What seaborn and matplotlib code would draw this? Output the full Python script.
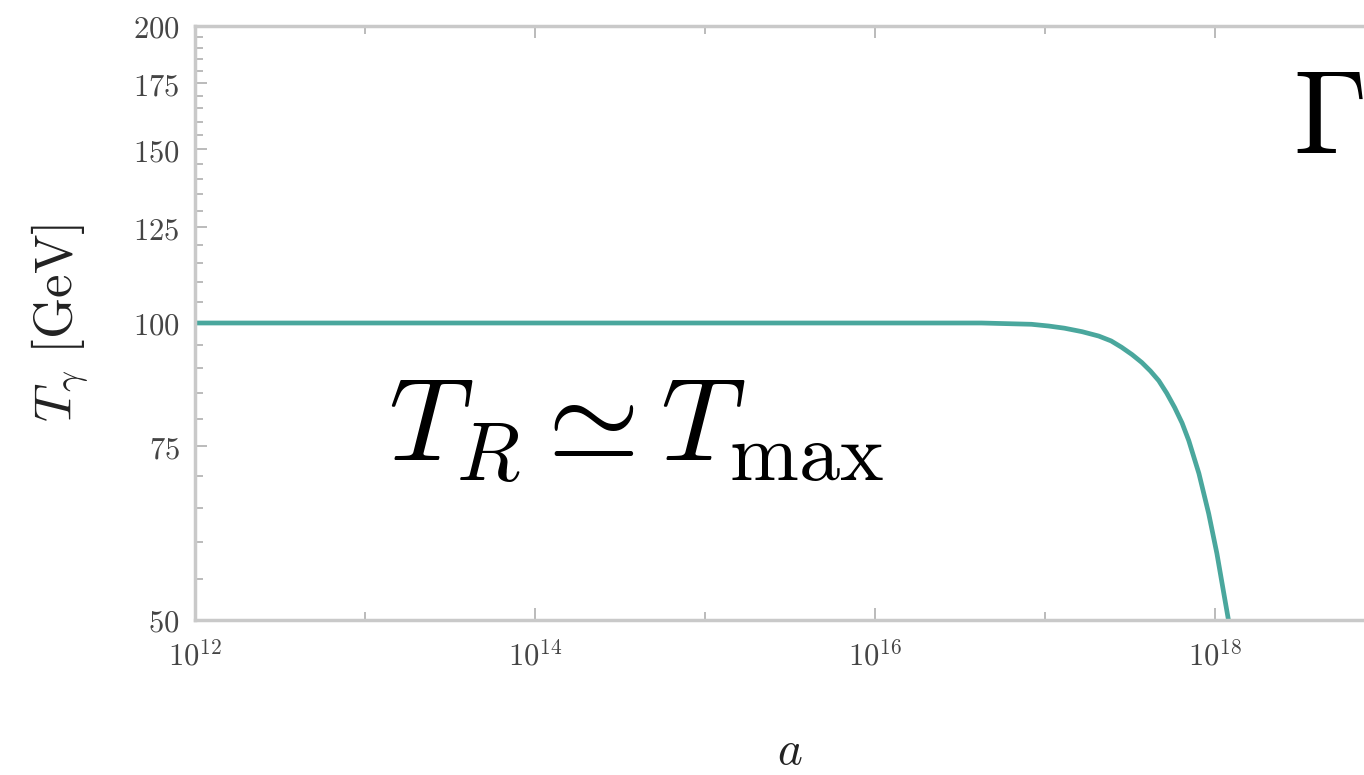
import numpy as np
import pandas as pd
import matplotlib
matplotlib.use("Agg")
import matplotlib.pyplot as plt
from matplotlib.ticker import FixedLocator, FixedFormatter, NullFormatter
import seaborn as sns

# Scale factor a and photon temperature T_gamma [GeV]
scale_factor = [1e12, 1e14, 1e16, 2.0e16, 4.23e16, 8.32e16, 1.05e17, 1.30e17,
                1.65e17, 2.07e17, 2.45e17, 2.82e17, 3.25e17, 3.71e17, 4.17e17,
                4.67e17, 5.20e17, 5.79e17, 6.40e17, 7.01e17, 8.04e17,
                9.18e17, 1.026e18, 1.127e18, 1.20e18]
temperature = [100.0, 100.0, 100.0, 100.0, 100.0, 99.7, 99.3, 98.8,
               98.0, 97.0, 95.9, 94.5, 92.9, 91.2, 89.4,
               87.4, 84.9, 82.1, 79.2, 76.0, 70.4,
               64.1, 58.4, 53.2, 50.0]

# Axis ticks
x_major = [1e12, 1e14, 1e16, 1e18]
x_major_labels = [r"$10^{12}$", r"$10^{14}$", r"$10^{16}$", r"$10^{18}$"]
x_minor = [1e13, 1e15, 1e17, 1e19]
y_major = [50, 75, 100, 125, 150, 175, 200]
y_major_labels = [r"$%d$" % v for v in y_major]
y_minor = [v for v in range(55, 200, 5) if v % 25 != 0]

sns.set_theme(style="white")
plt.rcParams["mathtext.fontset"] = "cm"
plt.rcParams["font.family"] = ["DejaVu Serif"]

W, H = 1364, 775
fig = plt.figure(figsize=(W / 100, H / 100), dpi=100)
ax = fig.add_axes([195 / W, 155 / H, 1190 / W, 594 / H])

df = pd.DataFrame({"a": scale_factor, "T": temperature})
sns.lineplot(data=df, x="a", y="T", ax=ax, color="#4aa79d", linewidth=3.4,
             sort=True, estimator=None)

ax.set_xscale("log")
ax.set_yscale("log")
ax.set_xlim(1e12, 1e19)
ax.set_ylim(50, 200)

ax.xaxis.set_major_locator(FixedLocator(x_major))
ax.xaxis.set_major_formatter(FixedFormatter(x_major_labels))
ax.xaxis.set_minor_locator(FixedLocator(x_minor))
ax.xaxis.set_minor_formatter(NullFormatter())
ax.yaxis.set_major_locator(FixedLocator(y_major))
ax.yaxis.set_major_formatter(FixedFormatter(y_major_labels))
ax.yaxis.set_minor_locator(FixedLocator(y_minor))
ax.yaxis.set_minor_formatter(NullFormatter())

spine_col = "#c9c9c9"
for s in ax.spines.values():
    s.set_color(spine_col)
    s.set_linewidth(2.5)

ax.tick_params(which="both", direction="in", top=True, right=True,
               bottom=True, left=True, color="#a8a8a8", width=1.1)
ax.tick_params(which="major", length=8.5)
ax.tick_params(which="minor", length=5.5)
ax.tick_params(axis="y", which="major", pad=11, labelsize=22, labelcolor="#454545")
ax.tick_params(axis="x", which="major", pad=15, labelsize=22, labelcolor="#454545")

ax.set_xlabel(r"$a$", fontsize=34, color="#222222")
ax.set_ylabel(r"$T_\gamma\ [\mathrm{GeV}]$", fontsize=38, color="#222222")
ax.xaxis.set_label_coords(0.5, -0.183)
ax.yaxis.set_label_coords(-0.087, 0.5)

fig.text(388 / W, (H - 460) / H, r"$T_R \simeq T_{\max}$", fontsize=85,
         color="black", ha="left", va="baseline")
fig.text(1293 / W, (H - 153) / H, r"$\Gamma$", fontsize=85,
         color="black", ha="left", va="baseline")

fig.savefig("out.png", dpi=100)
